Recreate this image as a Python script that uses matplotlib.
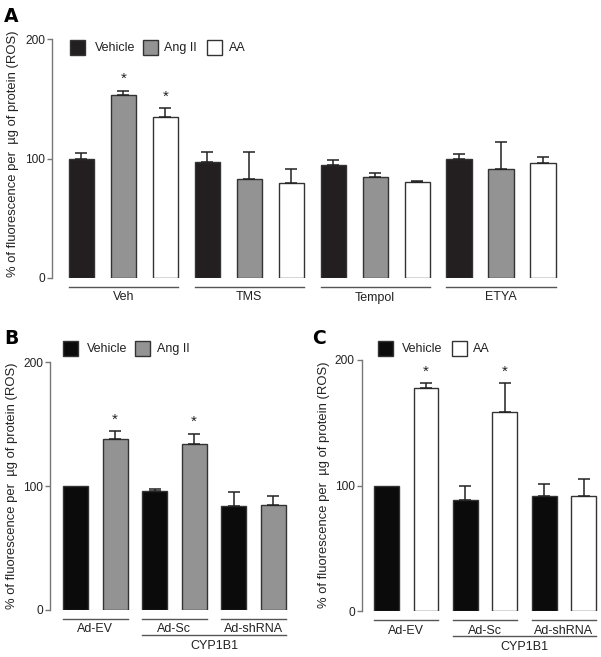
import matplotlib
matplotlib.use("Agg")
import matplotlib.pyplot as plt
from matplotlib.patches import Rectangle

plt.rcParams['font.family'] = ['Liberation Sans', 'DejaVu Sans']

# ---------------- data ----------------
A_groups = ['Veh', 'TMS', 'Tempol', 'ETYA']
A_series = ['Vehicle', 'Ang II', 'AA']
A_vehicle = [100, 97, 94.6, 99.3]
A_vehicle_sem = [5, 8.7, 3.9, 4.5]
A_ang = [152.9, 82.8, 84.3, 91]
A_ang_sem = [3.8, 22.9, 3.3, 22.8]
A_aa = [134.7, 79.2, 80.1, 96.2]
A_aa_sem = [7.3, 11.8, 1.3, 4.8]
A_stars = [[False, False, False, False], [True, False, False, False], [True, False, False, False]]

BC_groups = ['Ad-EV', 'Ad-Sc', 'Ad-shRNA']
BC_super = 'CYP1B1'
B_series = ['Vehicle', 'Ang II']
B_vehicle = [100, 96.3, 84.2]
B_vehicle_sem = [0, 1.7, 10.8]
B_ang = [137.8, 134, 84.5]
B_ang_sem = [6.5, 8.4, 7.8]
B_stars = [[False, False, False], [True, True, False]]

C_series = ['Vehicle', 'AA']
C_vehicle = [100, 88.4, 91.4]
C_vehicle_sem = [0, 11.4, 10]
C_aa = [177.9, 158.8, 91.4]
C_aa_sem = [3.8, 22.6, 14]
C_stars = [[False, False, False], [True, True, False]]

ylabel = '% of fluorescence per  µg of protein (ROS)'
yticks = [0, 100, 200]

W, H = 601, 657
fig = plt.figure(figsize=(W / 100, H / 100), dpi=100)

EDGE = '#333333'
GRAY = '#939393'
TXT = '#222222'


def fx(px):
    return px / W


def fy(py):
    return 1 - py / H


def panel(rect_px, xlim, vals, sems, colors, stars, groups, bar_w, super_label=None):
    left, top, right, bottom = rect_px
    ax = fig.add_axes([fx(left), fy(bottom), fx(right - left), (bottom - top) / H])
    ax.set_xlim(*xlim)
    ax.set_ylim(0, 200)
    ppu = (bottom - top) / 200.0
    ns = len(vals)
    ng = len(groups)
    for s in range(ns):
        xs = [g * ns + s for g in range(ng)]
        ax.bar(xs, vals[s], width=bar_w, color=colors[s], edgecolor=EDGE,
               linewidth=1.0, zorder=2)
        for g in range(ng):
            v, e = vals[s][g], sems[s][g]
            if e > 0:
                ax.errorbar(xs[g], v, yerr=[[0], [e]], fmt='none', ecolor=TXT,
                            elinewidth=1.1, capsize=4.5, capthick=1.1, zorder=3)
            if stars[s][g]:
                ax.text(xs[g], v + e + 4.5 / ppu, '*', ha='center', va='bottom',
                        fontsize=11, color=TXT)
    for sp in ['top', 'right', 'bottom']:
        ax.spines[sp].set_visible(False)
    ax.spines['left'].set_color('#777777')
    ax.spines['left'].set_linewidth(1.0)
    ax.spines['left'].set_bounds(0, 200)
    ax.set_yticks(yticks)
    ax.set_yticklabels([str(t) for t in yticks], fontsize=8.6, color=TXT)
    ax.tick_params(axis='y', length=3.5, width=1.0, color='#777777', pad=1.5)
    ax.set_xticks([])
    # group lines + labels
    for g in range(ng):
        x0 = g * ns - bar_w / 2
        x1 = g * ns + ns - 1 + bar_w / 2
        ax.plot([x0, x1], [-9 / ppu] * 2, color='#555555', lw=1.0, clip_on=False)
        ax.text((x0 + x1) / 2, -19.5 / ppu, groups[g], ha='center', va='center',
                fontsize=9, color=TXT, clip_on=False)
    if super_label:
        x0 = ns - bar_w / 2
        x1 = ng * ns - 1 + bar_w / 2
        ax.plot([x0, x1], [-24.5 / ppu] * 2, color='#555555', lw=1.0, clip_on=False)
        ax.text((x0 + x1) / 2, -36 / ppu, super_label, ha='center', va='center',
                fontsize=9, color=TXT, clip_on=False)
    return ax


def legend(items, y_top, size=15):
    for x_sq, x_txt, color, label in items:
        fig.add_artist(Rectangle((fx(x_sq), fy(y_top + size)), size / W, size / H,
                                 transform=fig.transFigure, facecolor=color,
                                 edgecolor=EDGE, linewidth=1.0))
        fig.text(fx(x_txt), fy(y_top + size / 2 + 0.5), label, ha='left', va='center',
                 fontsize=9, color=TXT)


def letter(x, y, s):
    fig.text(fx(x), fy(y), s, ha='left', va='center', fontsize=13.5, fontweight='bold',
             family=['DejaVu Sans'])


# Panel A
panel((52, 39, 564, 278), (-0.70, 11.5),
      [A_vehicle, A_ang, A_aa], [A_vehicle_sem, A_ang_sem, A_aa_sem],
      ['#231f20', GRAY, 'white'], A_stars, A_groups, 0.6)
legend([(70, 95, '#231f20', A_series[0]), (143, 164, GRAY, A_series[1]),
        (207, 229, 'white', A_series[2])], 40)
fig.text(fx(13), fy(154), ylabel, rotation=90, ha='center', va='center', fontsize=9.4,
         color=TXT)
letter(4, 16, 'A')

# Panel B
panel((50, 362.3, 291, 610), (-0.65, 5.45),
      [B_vehicle, B_ang], [B_vehicle_sem, B_ang_sem],
      ['#0b0b0b', GRAY], B_stars, BC_groups, 0.63, BC_super)
legend([(63, 87, '#0b0b0b', B_series[0]), (135, 157, GRAY, B_series[1])], 341)
fig.text(fx(12.5), fy(486), ylabel, rotation=90, ha='center', va='center', fontsize=9.4,
         color=TXT)
letter(4, 339, 'B')

# Panel C
panel((361.7, 360, 601.3, 611), (-0.63, 5.45),
      [C_vehicle, C_aa], [C_vehicle_sem, C_aa_sem],
      ['#0b0b0b', 'white'], C_stars, BC_groups, 0.63, BC_super)
legend([(378, 402, '#0b0b0b', C_series[0]), (452, 473, 'white', C_series[1])], 341)
fig.text(fx(324), fy(485), ylabel, rotation=90, ha='center', va='center', fontsize=9.4,
         color=TXT)
letter(312, 339, 'C')

fig.savefig('out.png', dpi=100)
